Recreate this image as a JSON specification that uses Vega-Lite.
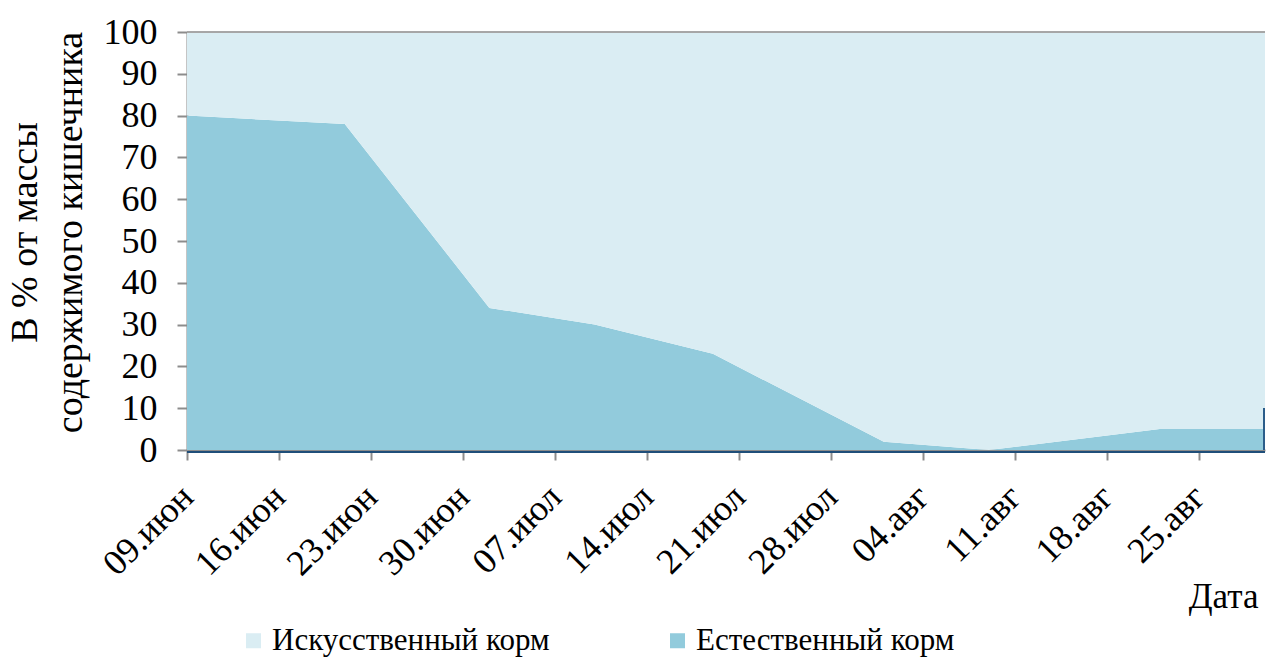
{
  "$schema": "https://vega.github.io/schema/vega-lite/v6.json",
  "autosize": "none",
  "width": 1078,
  "height": 418,
  "padding": {"left": 187, "top": 32, "right": 1, "bottom": 209},
  "background": "white",
  "data": {
    "values": [
      {"date": "2013/06/09", "series": "Естественный корм", "value": 80},
      {"date": "2013/06/21", "series": "Естественный корм", "value": 78},
      {"date": "2013/07/02", "series": "Естественный корм", "value": 34},
      {"date": "2013/07/10", "series": "Естественный корм", "value": 30},
      {"date": "2013/07/19", "series": "Естественный корм", "value": 23},
      {"date": "2013/08/01", "series": "Естественный корм", "value": 2},
      {"date": "2013/08/09", "series": "Естественный корм", "value": 0},
      {"date": "2013/08/22", "series": "Естественный корм", "value": 5},
      {"date": "2013/08/30", "series": "Естественный корм", "value": 5},
      {"date": "2013/06/09", "series": "Искусственный корм", "value": 20},
      {"date": "2013/06/21", "series": "Искусственный корм", "value": 22},
      {"date": "2013/07/02", "series": "Искусственный корм", "value": 66},
      {"date": "2013/07/10", "series": "Искусственный корм", "value": 70},
      {"date": "2013/07/19", "series": "Искусственный корм", "value": 77},
      {"date": "2013/08/01", "series": "Искусственный корм", "value": 98},
      {"date": "2013/08/09", "series": "Искусственный корм", "value": 100},
      {"date": "2013/08/22", "series": "Искусственный корм", "value": 95},
      {"date": "2013/08/30", "series": "Искусственный корм", "value": 95}
    ]
  },
  "layer": [
    {
      "mark": {"type": "area", "interpolate": "linear"},
      "encoding": {
        "x": {
          "field": "date",
          "type": "temporal",
          "scale": {
            "domain": [
              {"year": 2013, "month": "jun", "date": 9},
              {"year": 2013, "month": "aug", "date": 30}
            ],
            "nice": false
          },
          "axis": {
            "values": [
              {"year": 2013, "month": "jun", "date": 9},
              {"year": 2013, "month": "jun", "date": 16},
              {"year": 2013, "month": "jun", "date": 23},
              {"year": 2013, "month": "jun", "date": 30},
              {"year": 2013, "month": "jul", "date": 7},
              {"year": 2013, "month": "jul", "date": 14},
              {"year": 2013, "month": "jul", "date": 21},
              {"year": 2013, "month": "jul", "date": 28},
              {"year": 2013, "month": "aug", "date": 4},
              {"year": 2013, "month": "aug", "date": 11},
              {"year": 2013, "month": "aug", "date": 18},
              {"year": 2013, "month": "aug", "date": 25}
            ],
            "labelExpr": "timeFormat(datum.value, '%d') + '.' + ['янв','фев','мар','апр','май','июн','июл','авг','сен','окт','ноя','дек'][month(datum.value)]",
            "labelAngle": -45,
            "labelAlign": "right",
            "labelBaseline": "middle",
            "labelPadding": 31,
            "labelFontSize": 36,
            "labelOverlap": false,
            "labelBound": false,
            "labelFlush": false,
            "title": "Дата",
            "titleFontSize": 35,
            "titleX": 1071,
            "titleY": 157,
            "titleAlign": "right",
            "titleAnchor": null,
            "titleBaseline": "alphabetic"
          }
        },
        "y": {
          "field": "value",
          "type": "quantitative",
          "stack": "zero",
          "scale": {"domain": [0, 100], "nice": false},
          "axis": {
            "values": [0, 10, 20, 30, 40, 50, 60, 70, 80, 90, 100],
            "labelPadding": 20,
            "labelFontSize": 36,
            "title": ["В % от массы", "содержимого кишечника"],
            "titleFontSize": 38,
            "titleAngle": -90,
            "titleX": -151,
            "titleY": 200,
            "titleAlign": "center",
            "titleAnchor": null,
            "titleBaseline": "alphabetic",
            "titleLineHeight": 45
          }
        },
        "color": {
          "field": "series",
          "type": "nominal",
          "scale": {
            "domain": ["Искусственный корм", "Естественный корм"],
            "range": ["#daedf3", "#92cbdc"]
          },
          "legend": {
            "title": null,
            "orient": "none",
            "direction": "horizontal",
            "legendX": 51,
            "legendY": 593,
            "symbolType": "square",
            "symbolSize": 225,
            "symbolStrokeWidth": 0,
            "symbolOpacity": 1,
            "labelFont": "Liberation Serif",
            "labelFontSize": 31,
            "labelColor": "black",
            "labelLimit": 600,
            "labelOffset": 3,
            "columnPadding": 112
          }
        },
        "order": {"field": "series", "sort": "ascending"}
      }
    },
    {
      "mark": {"type": "rule", "color": "#a6a6a6", "strokeWidth": 1},
      "encoding": {"y": {"datum": 100}}
    },
    {
      "mark": {"type": "rule", "color": "#1f4e79", "strokeWidth": 2, "yOffset": 2},
      "encoding": {"y": {"datum": 0}}
    },
    {
      "mark": {"type": "rule", "color": "#2c5d8a", "strokeWidth": 2, "xOffset": -1, "opacity": 0.85},
      "encoding": {
        "x": {"datum": {"year": 2013, "month": "aug", "date": 30}},
        "y": {"datum": 0},
        "y2": {"datum": 10}
      }
    }
  ],
  "config": {
    "font": "Liberation Serif",
    "view": {"stroke": null},
    "axis": {
      "grid": false,
      "domainColor": "#8c8c8c",
      "domainWidth": 2,
      "tickColor": "#8c8c8c",
      "tickWidth": 2,
      "tickSize": 10,
      "labelFont": "Liberation Serif",
      "labelColor": "black",
      "titleFont": "Liberation Serif",
      "titleFontWeight": "normal",
      "titleColor": "black"
    }
  }
}
